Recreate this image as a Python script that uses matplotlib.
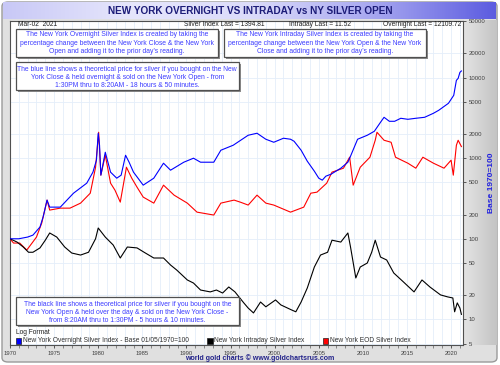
import numpy as np
import matplotlib
matplotlib.use('Agg')
import matplotlib.pyplot as plt
from matplotlib.patches import Rectangle, FancyBboxPatch
from matplotlib.colors import LinearSegmentedColormap
from matplotlib.ticker import FixedLocator, NullFormatter

plt.rcParams['font.family'] = ['Liberation Sans', 'DejaVu Sans']

W, H = 500, 365

# values (log scale, base 1970 = 100)
blue_years = [1970.0, 1971.0, 1972.0, 1972.6, 1973.4, 1973.75, 1974.2, 1974.5, 1975.7, 1977.2,
              1978.7, 1979.4, 1979.8, 1980.0, 1980.15, 1980.3, 1980.8, 1981.4, 1982.1, 1982.6,
              1983.1, 1983.5, 1984.0, 1985.1, 1986.3, 1987.4, 1988.2, 1989.7, 1990.8, 1991.6,
              1993.1, 1993.9, 1995.3, 1997.0, 1998.0, 1999.0, 1999.9, 2001.0, 2001.8, 2002.2,
              2003.0, 2003.7, 2004.5, 2005.0, 2005.4, 2005.8, 2006.4, 2007.5, 2008.3, 2008.6,
              2009.4, 2010.5, 2011.3, 2012.0, 2012.4, 2013.0, 2013.6, 2014.3, 2015.1, 2016.0,
              2017.0, 2018.0, 2018.6, 2019.7, 2020.3, 2020.6, 2020.8, 2021.0, 2021.17]
blue_vals = [100, 100, 105, 111, 140, 186, 302, 247, 247, 368,
             490, 671, 945, 2042, 1449, 616, 1186, 671, 565, 616,
             1089, 892, 671, 463, 565, 867, 710, 892, 1000, 892,
             892, 1256, 1449, 1928, 2042, 1720, 1578, 1770, 1720, 1624,
             1256, 918, 690, 565, 534, 598, 634, 752, 892, 1059,
             1720, 1928, 2160, 2793, 3221, 2873, 2873, 3131, 3041, 3131,
             3221, 3613, 3936, 4805, 6035, 9262, 9795, 11640, 12109.72]

red_years = [1970.0, 1970.4, 1971.1, 1971.9, 1972.5, 1973.0, 1973.6, 1974.2, 1974.5, 1975.7,
             1976.8, 1978.0, 1979.1, 1979.7, 1980.05, 1980.3, 1980.8, 1981.4, 1981.9, 1982.5,
             1983.2, 1983.8, 1984.4, 1985.1, 1986.3, 1987.4, 1988.6, 1990.1, 1991.2, 1993.1,
             1993.9, 1995.4, 1996.1, 1997.0, 1998.0, 1999.0, 1999.9, 2001.0, 2001.8, 2003.3,
             2004.1, 2004.8, 2005.9, 2006.5, 2007.8, 2008.5, 2008.9, 2009.7, 2010.8, 2011.4,
             2011.6, 2012.4, 2013.2, 2013.7, 2015.1, 2016.0, 2016.8, 2018.0, 2019.2, 2020.0,
             2020.25, 2020.6, 2020.8, 2021.17]
red_vals = [100, 88.5, 88.5, 72.4, 88.5, 105, 157, 302, 227, 240,
            240, 277, 368, 773, 2099, 616, 1089, 490, 401, 285,
            773, 565, 437, 329, 277, 463, 348, 277, 214, 197,
            277, 302, 285, 262, 348, 277, 262, 233, 214, 247,
            368, 379, 490, 671, 752, 1029, 463, 773, 1029, 1671,
            2099, 1671, 1578, 1029, 867, 752, 1029, 867, 752, 945,
            616, 1449, 1671, 1394.81]

black_years = [1970.0, 1970.8, 1971.5, 1972.1, 1972.6, 1973.4, 1974.0, 1974.5, 1975.3, 1976.2,
               1977.0, 1978.0, 1978.9, 1979.7, 1980.0, 1980.8, 1981.7, 1982.5, 1983.3, 1984.4,
               1985.2, 1986.3, 1987.4, 1988.2, 1988.9, 1989.5, 1990.1, 1990.8, 1991.6, 1992.7,
               1993.4, 1994.1, 1994.8, 1995.5, 1996.5, 1997.0, 1997.6, 1998.4, 1999.0, 2000.1,
               2000.7, 2001.9, 2002.4, 2003.0, 2003.7, 2004.5, 2005.2, 2006.0, 2006.5, 2007.5,
               2008.3, 2008.6, 2009.2, 2009.7, 2010.5, 2011.0, 2011.4, 2012.0, 2012.7, 2013.5,
               2014.6, 2015.8, 2016.7, 2017.6, 2018.8, 2019.6, 2020.2, 2020.4, 2020.7, 2021.0,
               2021.17]
black_vals = [100, 91, 79, 68, 68, 77, 96, 118, 105, 79,
              66.5, 62.8, 68, 100, 136, 105, 83.6, 57.7, 79, 77,
              68, 57.7, 57.7, 47.2, 40.9, 35.5, 30.8, 28.2, 23.1, 21.9,
              23.1, 21.2, 25.2, 21.9, 16.0, 13.8, 12.0, 16.4, 14.3, 17.4,
              15.1, 13.1, 12.4, 16.4, 24.5, 44.6, 62.8, 68, 96, 91,
              118, 79, 32.6, 44.6, 50, 68, 96, 59.3, 54.5, 37.6,
              29.1, 21.9, 30.8, 25.2, 20.1, 19.0, 18.4, 12.4, 16.0, 13.8,
              11.52]

y_ticks = [5, 10, 20, 50, 100, 200, 500, 1000, 2000, 5000, 10000, 20000, 50000]
x_ticks = [1970, 1975, 1980, 1985, 1990, 1995, 2000, 2005, 2010, 2015, 2020]

title = 'NEW YORK OVERNIGHT VS INTRADAY vs NY SILVER OPEN'
footer = 'world gold charts \u00a9 www.goldchartsrus.com'


def fx(px):
    return px / W


def fy(py):
    return 1 - py / H


def note(x0, y0, x1, y1, lines, ys):
    shadow = Rectangle((fx(x0 + 2), fy(y1 + 2)), (x1 - x0) / W, (y1 - y0) / H,
                       transform=fig.transFigure, facecolor='#8c8c8c', edgecolor='none', zorder=4)
    box = Rectangle((fx(x0), fy(y1)), (x1 - x0) / W, (y1 - y0) / H, transform=fig.transFigure,
                    facecolor='white', edgecolor='#505050', lw=0.9, zorder=5)
    fig.patches.extend([shadow, box])
    for t, y in zip(lines, ys):
        fig.text(fx((x0 + x1) / 2), fy(y), t, ha='center', va='center', fontsize=4.85,
                 color='#3c3cff', zorder=6)


fig = plt.figure(figsize=(5, 3.65), dpi=100)
fig.patch.set_facecolor('white')

frame = FancyBboxPatch((fx(2), fy(362)), fx(495), 360 / H, boxstyle='round,pad=0,rounding_size=0.012',
                       transform=fig.transFigure, facecolor='#e0e0e0', edgecolor='#9a9a9a', lw=1, zorder=-20)
fig.patches.append(frame)

# title bar gradient
tax = fig.add_axes([fx(3), fy(19.5), fx(493), 17.5 / H], zorder=-10)
cmap = LinearSegmentedColormap.from_list('t', ['#c8c8f6', '#e6e6fc', '#dcdcfa', '#a8a8f0', '#5c5ce0'])
tax.imshow(np.linspace(0, 1, 256)[None, :], aspect='auto', cmap=cmap, extent=[0, 1, 0, 1])
tax.axis('off')
fig.text(0.5, fy(10.5), title, ha='center', va='center', fontsize=7.2, fontweight='bold', color='#1c1c78')

# right gray panel
pax = fig.add_axes([fx(463), fy(345), fx(34), 325 / H], zorder=-10)
pcmap = LinearSegmentedColormap.from_list('p', ['#e4e4e4', '#d4d4d4', '#c4c4c4'])
pax.imshow(np.linspace(0, 1, 64)[None, :], aspect='auto', cmap=pcmap, extent=[0, 1, 0, 1])
pax.axis('off')

ax = fig.add_axes([fx(10), fy(345), fx(453), 324 / H])
ax.set_facecolor('white')
ax.set_yscale('log')
ax.set_xlim(1970, 2021.35)
ax.set_ylim(4.8, 50500)

ax.plot(red_years, red_vals, color='#ff0000', lw=0.8, zorder=3)
ax.plot(black_years, black_vals, color='black', lw=0.8, zorder=3)
ax.plot(blue_years, blue_vals, color='#0000ff', lw=0.8, zorder=4)

ax.yaxis.tick_right()
ax.yaxis.set_major_locator(FixedLocator(y_ticks))
ax.yaxis.set_minor_locator(FixedLocator([]))
ax.yaxis.set_minor_formatter(NullFormatter())
ax.set_yticklabels([str(v) for v in y_ticks])
ax.xaxis.set_major_locator(FixedLocator(x_ticks))
ax.xaxis.set_minor_locator(FixedLocator(list(range(1970, 2022))))
ax.set_xticklabels([str(v) for v in x_ticks])
ax.tick_params(axis='y', which='major', length=2.5, width=0.6, pad=1.5, labelsize=4.3,
               colors='#404040', right=True, left=False)
ax.tick_params(axis='x', which='major', length=2.5, width=0.6, pad=1.5, labelsize=4.2, colors='#404040')
ax.tick_params(axis='x', which='minor', length=2, width=0.5, colors='#606060')
ax.grid(True, which='both', axis='x', color='#e4eefa', lw=0.6)
ax.grid(True, which='major', axis='y', color='#e4eefa', lw=0.6)
ax.set_axisbelow(True)
for s in ax.spines.values():
    s.set_color('#505050')
    s.set_linewidth(0.8)

fig.text(fx(491.5), fy(183), 'Base 1970=100', rotation=90, ha='center', va='center',
         fontsize=6.0, fontweight='bold', color='#2020e0')

# header row
fig.text(fx(18), fy(25), 'Mar-02  2021', ha='left', va='center', fontsize=4.8, color='#202020')
fig.text(fx(184), fy(25), 'Silver Index Last = 1394.81', ha='left', va='center', fontsize=4.8, color='#202020')
fig.text(fx(289), fy(25), 'Intraday Last = 11.52', ha='left', va='center', fontsize=4.8, color='#202020')
fig.text(fx(461), fy(25), 'Overnight Last = 12109.72', ha='right', va='center', fontsize=4.8, color='#202020')

note(15.5, 29, 218, 56.5,
     ['The New York Overnight Silver Index is created by taking the',
      'percentage change between the New York Close & the New York',
      'Open and adding it to the prior day\u2019s reading.'], [35, 43.3, 51.6])
note(224, 29, 426, 56.5,
     ['The New York Intraday Silver Index is created by taking the',
      'percentage change between the New York Open & the New York',
      'Close and adding it to the prior day\u2019s reading.'], [35, 43.3, 51.6])
note(15.5, 62, 239, 90,
     ['The blue line shows a theoretical price for silver if you bought on the New',
      'York Close & held overnight & sold on the New York Open - from',
      '1:30PM thru to 8:20AM - 18 hours & 50 minutes.'], [69.7, 77.5, 85.4])
note(15.5, 296.5, 239, 325,
     ['The black line shows a theoretical price for silver if you bought on the',
      'New York Open & held over the day & sold on the New York Close -',
      'from 8:20AM thru to 1:30PM - 5 hours & 10 minutes.'], [304, 312, 320])

# legend
fig.text(fx(15.5), fy(332.5), 'Log Format', ha='left', va='center', fontsize=4.8, color='#202020', zorder=6)
legend_items = [(15.5, '#0000ff', 'New York Overnight Silver Index - Base 01/05/1970=100'),
                (207, 'black', 'New York Intraday Silver Index'),
                (322.5, '#ff0000', 'New York EOD Silver Index')]
for lx, col, lab in legend_items:
    fig.patches.append(Rectangle((fx(lx), fy(343.5)), 5.5 / W, 5.5 / H, transform=fig.transFigure,
                                 facecolor=col, edgecolor='#202020', lw=0.5, zorder=6))
    fig.text(fx(lx + 7.5), fy(340.8), lab, ha='left', va='center', fontsize=4.8, color='#303030', zorder=6)

fig.text(fx(260), fy(358), footer, ha='center', va='center', fontsize=5.0, fontweight='bold', color='#22228a')

fig.savefig('out.png', dpi=100)
